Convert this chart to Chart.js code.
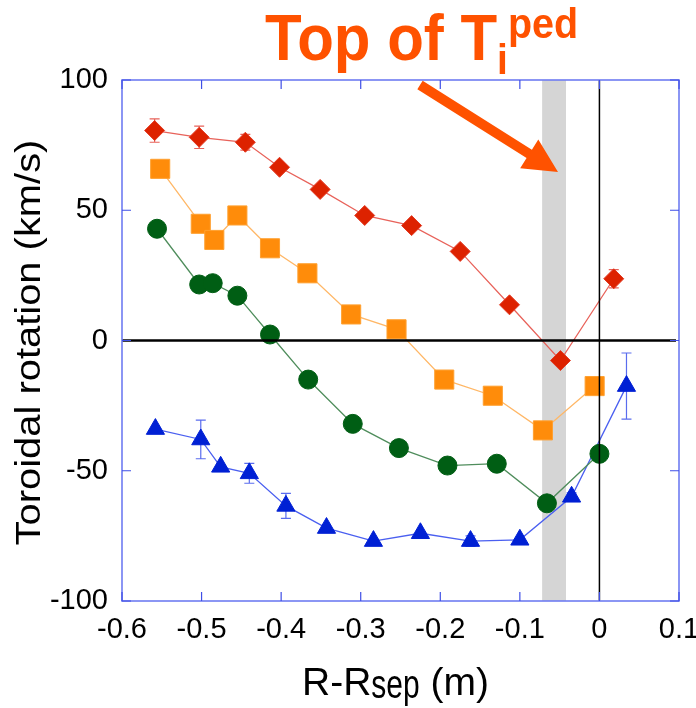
<!DOCTYPE html>
<html>
<head>
<meta charset="utf-8">
<script src="https://cdn.jsdelivr.net/npm/chart.js@4.4.1/dist/chart.umd.min.js"></script>
<style>
  body { margin: 0; background: #fff; }
</style>
</head>
<body>
<canvas id="rotChart" width="696" height="708"></canvas>
<script>
// radial position (m) and toroidal rotation (km/s), one set per discharge
const redX = [-0.559, -0.503, -0.445, -0.402, -0.351, -0.295, -0.236, -0.175, -0.113, -0.049, 0.018];
const redY = [80.6, 78.0, 76.1, 66.5, 58.0, 48.0, 44.1, 34.2, 13.7, -7.7, 23.7];
const redErr = [4.5, 4.3, 3, 0, 0, 0, 0, 0, 0, 0, 3.5];

const orangeX = [-0.552, -0.501, -0.484, -0.455, -0.414, -0.367, -0.312, -0.255, -0.195, -0.134, -0.071, -0.006];
const orangeY = [65.9, 44.8, 38.6, 48.0, 35.4, 25.8, 10.0, 4.3, -15.0, -21.2, -34.5, -17.5];
const orangeErr = [0, 0, 0, 2, 0, 0, 0, 0, 0, 0, 0, 0];

const greenX = [-0.556, -0.503, -0.486, -0.455, -0.414, -0.366, -0.310, -0.252, -0.191, -0.129, -0.066, 0.0];
const greenY = [42.9, 21.5, 22.0, 17.2, 2.3, -15.0, -32.0, -41.3, -48.0, -47.3, -62.5, -43.5];

const blueX = [-0.558, -0.501, -0.476, -0.440, -0.394, -0.343, -0.284, -0.225, -0.162, -0.100, -0.035, 0.034];
const blueY = [-34, -38, -48.5, -51, -63.5, -72, -77, -74, -77, -76.5, -60, -17.5];
const blueErr = [0, 7.4, 0, 3.8, 4.8, 0, 0, 0, 2, 0, 1.5, 12.7];

// axis ticks and the shaded pedestal-top band
const xTicks = [-0.6, -0.5, -0.4, -0.3, -0.2, -0.1, 0, 0.1];
const yTicks = [-100, -50, 0, 50, 100];
const pedBand = [-0.072, -0.042];

const FONT = '"Liberation Sans", Arial, sans-serif';

function pts(xs, ys) {
    return xs.map((x, i) => ({ x: x, y: ys[i] }));
}

function series(xs, ys, errs, style) {
    return Object.assign({
        data: pts(xs, ys),
        errs: errs,
        showLine: true,
        borderWidth: 1.3,
        pointBorderWidth: 1,
        order: 1
    }, style);
}

// gray band under everything
const bandPlugin = {
    id: 'band',
    beforeDatasetsDraw(chart) {
        const { ctx, chartArea, scales } = chart;
        const x0 = scales.x.getPixelForValue(pedBand[0]);
        const x1 = scales.x.getPixelForValue(pedBand[1]);
        ctx.save();
        ctx.fillStyle = '#d5d5d5';
        ctx.fillRect(x0, chartArea.top, x1 - x0, chartArea.bottom - chartArea.top);

        // error bars, drawn beneath the markers
        chart.data.datasets.forEach(ds => {
            if (!ds.errs) return;
            ctx.strokeStyle = ds.errColor;
            ctx.lineWidth = 1.2;
            ds.data.forEach((p, i) => {
                const e = ds.errs[i];
                if (!e) return;
                const px = scales.x.getPixelForValue(p.x);
                const top = scales.y.getPixelForValue(p.y + e);
                const bot = scales.y.getPixelForValue(p.y - e);
                ctx.beginPath();
                ctx.moveTo(px, top); ctx.lineTo(px, bot);
                ctx.moveTo(px - 5, top); ctx.lineTo(px + 5, top);
                ctx.moveTo(px - 5, bot); ctx.lineTo(px + 5, bot);
                ctx.stroke();
            });
        });
        ctx.restore();
    }
};

// zero lines, frame and inward ticks
const framePlugin = {
    id: 'frame',
    afterDatasetsDraw(chart) {
        const { ctx, chartArea: a, scales } = chart;
        const y0 = scales.y.getPixelForValue(0);
        const x0 = scales.x.getPixelForValue(0);
        ctx.save();
        ctx.strokeStyle = '#000';
        ctx.lineWidth = 2.5;
        ctx.beginPath();
        ctx.moveTo(a.left, y0); ctx.lineTo(a.right - 3, y0);
        ctx.stroke();
        ctx.lineWidth = 1.5;
        ctx.beginPath();
        ctx.moveTo(x0, a.top); ctx.lineTo(x0, a.bottom);
        ctx.stroke();

        ctx.strokeStyle = '#6f7cf2';
        ctx.lineWidth = 1.6;
        ctx.strokeRect(a.left, a.top, a.right - a.left, a.bottom - a.top);
        ctx.strokeStyle = '#3f4fe6';
        ctx.lineWidth = 1.2;
        ctx.beginPath();
        xTicks.forEach(v => {
            const px = scales.x.getPixelForValue(v);
            ctx.moveTo(px, a.bottom); ctx.lineTo(px, a.bottom - 9);
            ctx.moveTo(px, a.top); ctx.lineTo(px, a.top + 9);
        });
        yTicks.forEach(v => {
            const py = scales.y.getPixelForValue(v);
            ctx.moveTo(a.left, py); ctx.lineTo(a.left + 9, py);
            ctx.moveTo(a.right, py); ctx.lineTo(a.right - 9, py);
        });
        ctx.stroke();
        ctx.restore();
    }
};

// run of text pieces, each with its own font, baseline and vertical stretch
function drawRun(ctx, x, parts) {
    parts.forEach(p => {
        ctx.font = p.font;
        ctx.save();
        ctx.translate(x, p.y);
        ctx.scale(1, p.sy || 1);
        ctx.fillText(p.text, 0, 0);
        ctx.restore();
        x += ctx.measureText(p.text).width;
    });
}

const labelPlugin = {
    id: 'labels',
    afterDraw(chart) {
        const { ctx, chartArea: a } = chart;
        ctx.save();
        ctx.textBaseline = 'alphabetic';
        ctx.textAlign = 'left';

        // heading with arrow pointing at the band
        ctx.fillStyle = '#ff5200';
        drawRun(ctx, 265, [
            { text: 'Top of T', font: 'bold 60px ' + FONT, y: 60, sy: 1.08 },
            { text: 'i', font: 'bold 39px ' + FONT, y: 74, sy: 1.08 },
            { text: 'ped', font: 'bold 39.5px ' + FONT, y: 38, sy: 1.08 }
        ]);
        const tail = [420, 85], tip = [558, 172];
        const ang = Math.atan2(tip[1] - tail[1], tip[0] - tail[0]);
        const len = Math.hypot(tip[0] - tail[0], tip[1] - tail[1]);
        ctx.translate(tail[0], tail[1]);
        ctx.rotate(ang);
        ctx.beginPath();
        ctx.moveTo(0, -5);
        ctx.lineTo(len - 34, -5);
        ctx.lineTo(len - 34, -17);
        ctx.lineTo(len, 0);
        ctx.lineTo(len - 34, 17);
        ctx.lineTo(len - 34, 5);
        ctx.lineTo(0, 5);
        ctx.closePath();
        ctx.fill();
        ctx.setTransform(1, 0, 0, 1, 0, 0);

        // axis titles
        ctx.fillStyle = '#000';
        drawRun(ctx, 302, [
            { text: 'R-R', font: '39px ' + FONT, y: 695 },
            { text: 'sep', font: '30px ' + FONT, y: 698, sy: 1.35 },
            { text: ' (m)', font: '39px ' + FONT, y: 695 }
        ]);
        ctx.save();
        ctx.translate(40, (a.top + a.bottom) / 2 + 2);
        ctx.rotate(-Math.PI / 2);
        ctx.scale(1.14, 1);
        ctx.textAlign = 'center';
        ctx.font = '35px ' + FONT;
        ctx.fillText('Toroidal rotation (km/s)', 0, 0);
        ctx.restore();
        ctx.restore();
    }
};

new Chart(document.getElementById('rotChart'), {
    type: 'scatter',
    data: {
        datasets: [
            series(redX, redY, redErr, {
                borderColor: '#e8625a', pointStyle: 'rectRot', pointRadius: 10,
                pointBackgroundColor: '#dd2200', pointBorderColor: '#e23a22', errColor: '#e8625a'
            }),
            series(orangeX, orangeY, orangeErr, {
                borderColor: '#ffb766', pointStyle: 'rect', pointRadius: 13.5,
                pointBackgroundColor: '#ff8c0a', pointBorderColor: '#ffa030', errColor: '#ffb766'
            }),
            series(greenX, greenY, null, {
                borderColor: '#4f8d5c', pointStyle: 'circle', pointRadius: 9.5,
                pointBackgroundColor: '#005e14', pointBorderColor: '#005e14'
            }),
            series(blueX, blueY, blueErr, {
                borderColor: '#4a5ff0', pointStyle: 'triangle', pointRadius: 10.5,
                pointBackgroundColor: '#0020d4', pointBorderColor: '#0020d4', errColor: '#5a6cee'
            })
        ]
    },
    options: {
        responsive: false,
        animation: false,
        layout: { padding: { top: 80, right: 17, left: 0, bottom: 0 } },
        plugins: {
            legend: { display: false },
            tooltip: { enabled: false }
        },
        scales: {
            x: {
                type: 'linear',
                min: -0.6,
                max: 0.1,
                grid: { display: false, drawTicks: false },
                border: { display: false },
                afterBuildTicks: s => { s.ticks = xTicks.map(v => ({ value: v })); },
                afterFit: s => { s.height = 107; s.paddingLeft = 0; s.paddingRight = 0; },
                ticks: {
                    padding: 12,
                    color: '#000',
                    font: { family: FONT, size: 29 },
                    callback: v => (Math.abs(v) < 1e-9 ? '0' : v.toFixed(1))
                }
            },
            y: {
                min: -100,
                max: 100,
                grid: { display: false, drawTicks: false },
                border: { display: false },
                afterBuildTicks: s => { s.ticks = yTicks.map(v => ({ value: v })); },
                afterFit: s => { s.width = 122; s.paddingTop = 0; s.paddingBottom = 0; },
                ticks: {
                    padding: 14,
                    color: '#000',
                    font: { family: FONT, size: 29 }
                }
            }
        }
    },
    plugins: [bandPlugin, framePlugin, labelPlugin]
});
</script>
</body>
</html>
